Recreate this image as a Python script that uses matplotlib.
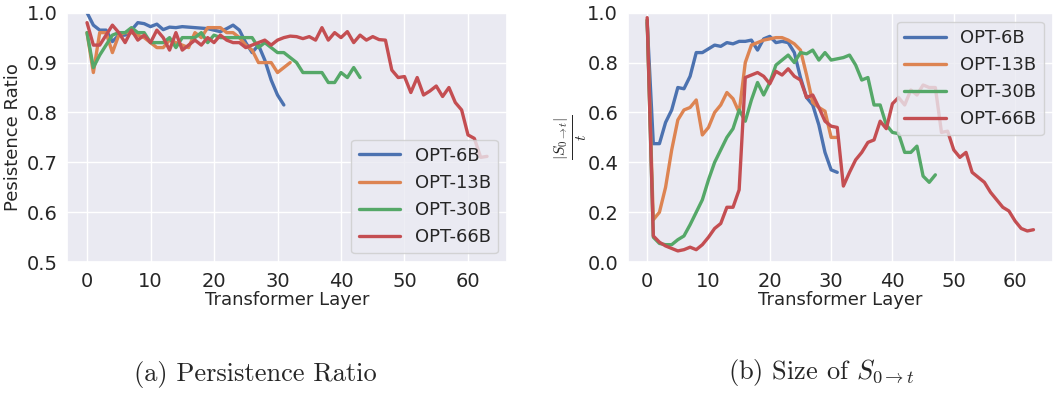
import matplotlib
matplotlib.use("Agg")
import matplotlib.pyplot as plt
import seaborn as sns
import numpy as np

sns.set_theme(style="darkgrid")
plt.rcParams['font.family'] = ['DejaVu Sans']
plt.rcParams['mathtext.fontset'] = 'cm'

models = ['OPT-6B', 'OPT-13B', 'OPT-30B', 'OPT-66B']

# (a) persistence ratio
persist_6b = [1.0, 0.975, 0.965, 0.965, 0.942, 0.955, 0.955, 0.965, 0.98, 0.978,
              0.972, 0.977, 0.966, 0.971, 0.97, 0.972, 0.971, 0.97, 0.969, 0.968,
              0.965, 0.962, 0.968, 0.975, 0.965, 0.94, 0.92, 0.935, 0.905, 0.865,
              0.835, 0.815]
persist_13b = [0.96, 0.88, 0.96, 0.96, 0.92, 0.955, 0.96, 0.96, 0.955, 0.95,
               0.94, 0.93, 0.93, 0.945, 0.94, 0.935, 0.93, 0.96, 0.95, 0.97,
               0.97, 0.97, 0.96, 0.96, 0.95, 0.935, 0.925, 0.9, 0.9, 0.9,
               0.88, 0.89, 0.9]
persist_30b = [0.96, 0.89, 0.915, 0.935, 0.955, 0.96, 0.96, 0.97, 0.96, 0.96,
               0.94, 0.94, 0.94, 0.95, 0.93, 0.95, 0.95, 0.95, 0.96, 0.94,
               0.955, 0.95, 0.95, 0.95, 0.95, 0.95, 0.95, 0.93, 0.94, 0.93,
               0.92, 0.92, 0.91, 0.9, 0.88, 0.88, 0.88, 0.88, 0.86, 0.86,
               0.88, 0.87, 0.89, 0.87]
persist_66b = [0.98, 0.935, 0.935, 0.955, 0.975, 0.96, 0.94, 0.965, 0.945, 0.955,
               0.94, 0.965, 0.95, 0.925, 0.96, 0.925, 0.935, 0.945, 0.935, 0.95,
               0.94, 0.955, 0.945, 0.94, 0.94, 0.93, 0.935, 0.94, 0.945, 0.935,
               0.945, 0.95, 0.953, 0.952, 0.948, 0.952, 0.945, 0.97, 0.945, 0.96,
               0.95, 0.962, 0.94, 0.955, 0.945, 0.952, 0.946, 0.945, 0.885, 0.87,
               0.872, 0.84, 0.87, 0.835, 0.843, 0.853, 0.832, 0.85, 0.82, 0.805,
               0.755, 0.748, 0.71, 0.712]

# (b) size of S_{0->t} / t
size_6b = [0.96, 0.475, 0.475, 0.56, 0.61, 0.7, 0.695, 0.745, 0.84, 0.84,
           0.855, 0.87, 0.865, 0.88, 0.875, 0.885, 0.885, 0.89, 0.85, 0.895,
           0.905, 0.88, 0.885, 0.88, 0.84, 0.74, 0.66, 0.63, 0.55, 0.44,
           0.37, 0.36]
size_13b = [0.97, 0.17, 0.2, 0.3, 0.45, 0.57, 0.61, 0.62, 0.65, 0.51,
            0.54, 0.6, 0.63, 0.68, 0.655, 0.6, 0.8, 0.87, 0.88, 0.89,
            0.895, 0.9, 0.9, 0.89, 0.875, 0.85, 0.75, 0.64, 0.62, 0.605,
            0.5, 0.5]
size_30b = [0.97, 0.1, 0.075, 0.07, 0.07, 0.09, 0.105, 0.15, 0.2, 0.25,
            0.33, 0.4, 0.45, 0.5, 0.535, 0.61, 0.565, 0.65, 0.72, 0.67,
            0.72, 0.79, 0.81, 0.83, 0.8, 0.84, 0.835, 0.85, 0.81, 0.84,
            0.81, 0.815, 0.82, 0.83, 0.79, 0.73, 0.74, 0.63, 0.63, 0.55,
            0.52, 0.515, 0.44, 0.44, 0.465, 0.345, 0.32, 0.35]
size_66b = [0.98, 0.105, 0.08, 0.065, 0.055, 0.045, 0.05, 0.06, 0.05, 0.07,
            0.1, 0.135, 0.155, 0.22, 0.22, 0.29, 0.74, 0.75, 0.76, 0.745,
            0.715, 0.765, 0.75, 0.775, 0.745, 0.73, 0.66, 0.67, 0.62, 0.565,
            0.545, 0.54, 0.305, 0.36, 0.41, 0.44, 0.48, 0.49, 0.565, 0.535,
            0.635, 0.66, 0.63, 0.69, 0.67, 0.71, 0.7, 0.7, 0.52, 0.525,
            0.45, 0.42, 0.44, 0.36, 0.34, 0.32, 0.28, 0.25, 0.22, 0.205,
            0.165, 0.135, 0.125, 0.13]

colors = sns.color_palette("deep")[:4]

fig = plt.figure(figsize=(10.57, 3.96), dpi=100)
ax1 = fig.add_axes([0.0634, 0.338, 0.4163, 0.630])
ax2 = fig.add_axes([0.594, 0.338, 0.402, 0.630])

for name, vals, c in zip(models, [persist_6b, persist_13b, persist_30b, persist_66b], colors):
    ax1.plot(np.arange(len(vals)), vals, color=c, lw=2.4, label=name)
for name, vals, c in zip(models, [size_6b, size_13b, size_30b, size_66b], colors):
    ax2.plot(np.arange(len(vals)), vals, color=c, lw=2.4, label=name)

ax1.set_ylim(0.5, 1.0)
ax2.set_ylim(0.0, 1.0)
for ax in (ax1, ax2):
    ax.set_xticks([0, 10, 20, 30, 40, 50, 60])
    ax.tick_params(labelsize=14, pad=1)
    ax.set_xlabel('Transformer Layer', fontsize=13, labelpad=0)

ax1.set_ylabel('Pesistence Ratio', fontsize=13, labelpad=3)
ax2.set_ylabel(r'$\frac{|S_{0\to t}|}{t}$', fontsize=16, labelpad=-1)

ax1.legend(loc='lower right', fontsize=13, handlelength=2.3)
ax2.legend(loc='upper right', fontsize=13, handlelength=2.3)

fig.text(0.242, 0.02, '(a) Persistence Ratio', ha='center', va='bottom',
         fontsize=19, family='cmr10')
fig.text(0.777, 0.02, r'(b) Size of $S_{0\to t}$', ha='center', va='bottom',
         fontsize=19, family='cmr10')

fig.savefig('out.png', dpi=100)
